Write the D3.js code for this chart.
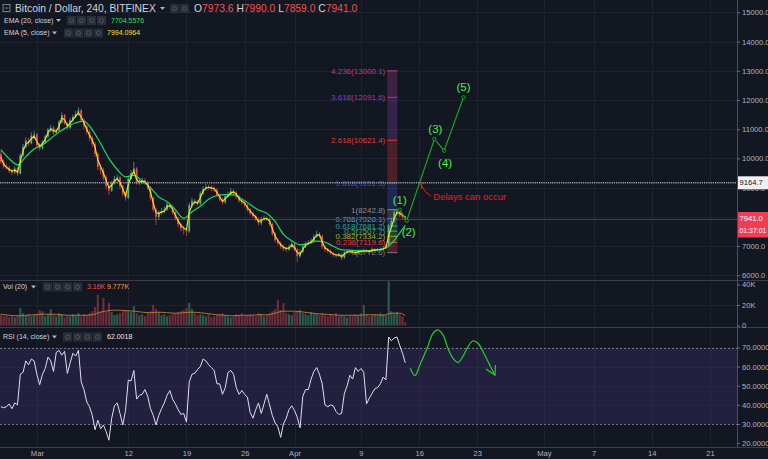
<!DOCTYPE html>
<html><head><meta charset="utf-8">
<script src="https://cdn.jsdelivr.net/npm/d3@7/dist/d3.min.js"></script>
<style>
body{margin:0;background:#131722;overflow:hidden;}
svg{display:block;font-family:"Liberation Sans",Arial,sans-serif;}
</style></head><body>
<svg id="c" width="768" height="459"></svg>
<script>
// ---------------- DATA ----------------
const candleStart = "2018-02-24T16:00:00Z";   // 8h candles
const candleHours = 8;
const firstOpen = 10150;
const closes = [9880,9720,9680,9580,9520,9650,9480,10100,10400,10600,
10520,10780,10820,10450,10350,10560,10750,10980,11050,10880,
10960,11250,11480,11200,11050,11300,11420,11520,11650,11300,
11100,10900,10700,10500,10150,9700,9600,9350,9050,8900,
9150,9300,9350,9050,8800,8650,9300,9500,9650,9150,
9180,9250,9180,9000,8650,8250,8000,8150,8200,8250,
8420,8350,8150,7950,7750,7600,7550,7500,8400,8550,
8500,8450,8800,8950,9020,9000,8960,8930,8750,8600,
8500,8700,8780,8870,8820,8700,8550,8500,8400,8250,
8120,8030,7920,7780,7930,7960,7930,7750,7420,7200,
7100,6980,6900,6880,6970,7080,6880,6650,6800,6980,
7080,7120,7180,7320,7420,7350,6980,6880,6830,6760,
6700,6670,6720,6600,6780,6820,6800,6790,6750,6830,
6810,6850,6820,6800,6890,6850,6880,6890,6920,6980,
7650,7850,8150,8180,8050,8000,7941];
const highs = [10250,9950,9800,9750,9650,9720,9700,10180,10500,10720,
10700,10900,10950,10880,10520,10620,10820,11050,11150,11100,
11020,11320,11580,11520,11250,11380,11500,11620,11750,11700,
11380,11150,10980,10780,10560,10200,9800,9680,9420,9120,
9220,9400,9450,9400,9100,8850,9380,9600,9880,9700,
9300,9350,9320,9230,9050,8700,8300,8220,8300,8350,
8520,8480,8400,8200,8000,7800,7680,7600,8480,8650,
8620,8580,8880,9050,9120,9100,9080,9040,8980,8800,
8650,8780,8860,8980,8950,8880,8750,8620,8560,8450,
8300,8180,8080,7980,8000,8050,8020,7980,7800,7480,
7260,7150,7050,6960,7050,7150,7120,6920,6880,7050,
7150,7200,7260,7400,7520,7480,7380,7020,6930,6880,
6800,6750,6780,6760,6850,6880,6880,6860,6830,6890,
6880,6910,6890,6870,6950,6930,6940,6950,6980,7050,
7750,7950,8240,8280,8250,8120,8020];
const lows = [9800,9650,9600,9500,9420,9470,9400,9450,10050,10350,
10420,10480,10650,10380,10250,10300,10500,10700,10900,10800,
10820,10900,11200,11150,10980,11000,11250,11380,11450,11250,
11000,10820,10600,10400,10050,9600,9450,9250,8950,8750,
8850,9100,9200,8950,8700,8550,8600,9250,9450,9100,
9080,9120,9100,8920,8550,8150,7720,7900,8080,8120,
8200,8280,8080,7880,7650,7500,7400,7350,7450,8320,
8420,8380,8400,8750,8900,8920,8880,8850,8680,8520,
8420,8450,8650,8720,8750,8620,8480,8420,8320,8180,
8050,7950,7850,7700,7720,7880,7860,7680,7350,7120,
7020,6900,6820,6800,6830,6920,6800,6450,6600,6750,
6930,7020,7080,7130,7280,7280,6900,6800,6760,6700,
6620,6600,6620,6520,6560,6740,6740,6730,6690,6710,
6760,6770,6770,6750,6760,6800,6810,6830,6850,6880,
6950,7600,7800,8050,7980,7920,7859];
const ema5 = [10050,9800,9700,9620,9560,9600,9530,9900,10250,10480,
10560,10680,10760,10580,10420,10500,10650,10880,11000,10950,
10930,11100,11380,11320,11120,11200,11330,11450,11560,11420,
11230,11000,10800,10620,10380,9950,9720,9500,9250,9000,
9080,9230,9300,9180,8950,8720,9100,9380,9560,9280,
9190,9220,9200,9100,8850,8480,8150,8110,8160,8190,
8350,8380,8260,8050,7860,7700,7620,7560,8150,8400,
8510,8470,8650,8880,8980,9010,8990,8960,8830,8680,
8530,8620,8720,8820,8850,8780,8620,8530,8470,8320,
8190,8090,7990,7840,7870,7930,7940,7850,7590,7340,
7190,7050,6960,6920,6930,7030,6950,6780,6720,6890,
7030,7090,7130,7250,7360,7390,7140,6940,6870,6800,
6730,6690,6700,6640,6720,6790,6810,6800,6770,6800,
6810,6830,6830,6810,6860,6860,6870,6880,6900,6950,
7350,7650,7950,8150,8120,8050,7994];
// EMA 20: one value per day (every 3rd candle) plus the last candle
const ema20 = [10300,9990,9780,10060,10320,10460,10680,10900,11080,11220,
11270,10980,10510,10000,9620,9370,9420,9230,9000,8680,
8520,8240,7950,8170,8360,8600,8730,8760,8750,8610,
8420,8230,8120,7840,7400,7180,7040,7080,7170,7130,
6990,6870,6860,6845,6840,6860,6900,7080,7450,7705];
// volume in thousands
const volumes = [11,9,10,8,9,8,10,17,12,10,
11,9,10,11,15,14,9,11,16,10,
9,12,11,8,10,9,11,10,12,9,
11,10,12,14,18,30,14,27,13,22,
13,10,11,12,14,15,14,13,19,12,
10,11,9,12,14,20,16,13,10,11,
9,10,11,12,13,14,15,17,22,16,
12,10,11,10,9,11,8,9,10,11,
12,10,9,8,9,11,10,12,9,10,
11,10,9,12,11,9,10,12,14,16,
25,15,22,12,11,10,13,14,15,12,
11,10,13,11,12,10,12,10,9,11,
10,12,9,10,9,8,10,9,11,10,
12,20,11,9,10,11,10,12,11,10,
43,14,12,13,11,9,3.16];
const volMA = [11,10,9.5,10,10.5,11,11,10.5,10,10,
10,10.5,13,14.5,15,14.5,14,13,12.5,13,
12.5,12,12.5,13,12.5,11.5,10.5,10,9.5,10,
10,10.5,10.5,12,14,14,13.5,12.5,11.5,11,
10.5,10,10,10,10.5,10.5,10,12,12,9.8];
const rsi = [39,38.5,39,40.5,38,41,40,56,57,63,
61,64,63,56,50.5,56,59,65,63,57.5,
67.5,68.5,66,68,56.5,62,67,65.5,68.5,52,
48,41.5,39,34.5,27,32,27.5,29.5,26,21.5,
33,39.5,41,35.5,29.5,37,53,52.5,58,43,
45,45.5,48,44.5,38,34.5,29.5,34.5,38,41,
45,47.5,43,40.5,37.5,35,35.5,31,52,56,
56.5,58.5,60,64,63,61,59.5,58,51,51,
45.5,49,57,58,56,49,45.5,47.5,45.5,44,
36,33,37.5,41,35.5,40.5,45.5,40,34.5,30.5,
28.5,23,30,33,37.5,39.5,37,33.5,28,44.5,
48,48,53.5,57.5,59.5,56,51,40,39,40,
39.5,36.5,35,35.5,46,50,55.5,53.5,59.5,57.5,
59,57,40.5,43.5,46,48.5,49,51,54.5,53,
75.5,73.5,75,75.5,71,67,62];

const priceTicks = [6000,7000,8000,9000,10000,11000,12000,13000,14000,15000];
const volTicks = [0,20,40];
const volTickLabels = ["0","20K","40K"];
const rsiTicks = [20,30,40,50,60,70,80];
const dateTicks = ["2018-03-01","2018-03-12","2018-03-19","2018-03-26","2018-04-01","2018-04-09","2018-04-16","2018-04-23","2018-05-01","2018-05-07","2018-05-14","2018-05-21"];
const dateTickLabels = ["Mar","12","19","26","Apr","9","16","23","May","7","14","21"];

const fibStart = "2018-04-12T04:00:00Z", fibEnd = "2018-04-13T09:00:00Z";
const fibRatios = [0,0.236,0.382,0.5,0.618,0.786,1,1.618,2.618,3.618,4.236];
const fibPrices = [6772.6,7119.6,7334.2,7507.7,7681.2,7928.1,8242.8,9151.3,10621.4,12091.6,13000.1];

const waveLabels = ["(1)","(2)","(3)","(4)","(5)"];
const waveDates = ["2018-04-13T16:00:00Z","2018-04-14T12:00:00Z","2018-04-17T20:00:00Z","2018-04-19T00:00:00Z","2018-04-21T08:00:00Z"];
const wavePrices = [8242.8,7867,10664,10264,12092];

const rsiSketchDates = ["2018-04-14T22:00:00Z","2018-04-15T12:00:00Z","2018-04-16T02:00:00Z","2018-04-16T23:00:00Z","2018-04-17T16:00:00Z","2018-04-18T06:00:00Z","2018-04-18T21:00:00Z","2018-04-19T11:00:00Z","2018-04-20T02:00:00Z","2018-04-20T16:00:00Z","2018-04-21T06:00:00Z","2018-04-21T21:00:00Z","2018-04-22T11:00:00Z","2018-04-23T02:00:00Z","2018-04-23T19:00:00Z","2018-04-24T12:00:00Z","2018-04-25T03:00:00Z"];
const rsiSketchValues = [59.1,55.3,60.8,69.6,77.4,79.2,76.6,69.6,64.3,62.2,65.2,70.4,73.4,72.2,66.9,60.8,55.6];

const markedLevel = 9164.7;
const lastPrice = 7941.0;
const countdown = "01:37:01";
const delayTip = {date:"2018-04-16T05:00:00Z", price:9120};
const delayText = {date:"2018-04-17T17:00:00Z", price:8700, text:"Delays can occur"};

// ---------------- STYLE ----------------
const BG="#131722", GRID="#1e2230", AXIS_TXT="#b2b5be", SEP="#3a3e4a";
const UP="#53b987", DN="#eb4d5c";
const fibColors = ["#787b86","#f23645","#9bb33a","#4caf50","#26a69a","#5b9cd6","#8a8d96","#3f51d6","#e53935","#8e3fc0","#b0418e"];

// ---------------- SCALES ----------------
const svg = d3.select("#c");
const PR = 737;
const x = d3.scaleUtc().domain([new Date("2018-03-12T00:00:00Z"), new Date("2018-05-21T00:00:00Z")]).range([128.3, 710]);
const yP = d3.scaleLinear().domain([6000,15000]).range([275.2,12.4]);
const yV = d3.scaleLinear().domain([0,40]).range([325.5,284.5]);
const yR = d3.scaleLinear().domain([20,80]).range([443.1,328.4]);
const times = d3.range(closes.length).map(i => d3.utcHour.offset(new Date(candleStart), i*candleHours));
const opens = closes.map((c,i)=> i===0 ? firstOpen : closes[i-1]);
const dayIdx = d3.range(0, closes.length, 3).concat([closes.length-1]);

svg.append("rect").attr("width",768).attr("height",459).attr("fill",BG);
const defs = svg.append("defs");
defs.append("clipPath").attr("id","cm").append("rect").attr("x",0).attr("y",0).attr("width",PR).attr("height",280);
defs.append("clipPath").attr("id","cv").append("rect").attr("x",0).attr("y",281).attr("width",PR).attr("height",46);
defs.append("clipPath").attr("id","cr").append("rect").attr("x",0).attr("y",328).attr("width",PR).attr("height",119);
defs.append("clipPath").attr("id","cra").append("rect").attr("x",PR).attr("y",328).attr("width",768-PR).attr("height",119);

// grid
const grid = svg.append("g");
dateTicks.forEach(d=>{
  const xx = Math.round(x(new Date(d+"T00:00:00Z")))+0.5;
  grid.append("line").attr("x1",xx).attr("x2",xx).attr("y1",0).attr("y2",447).attr("stroke",GRID);
});
priceTicks.forEach(p=>{
  const yy=Math.round(yP(p))+0.5;
  grid.append("line").attr("x1",0).attr("x2",PR).attr("y1",yy).attr("y2",yy).attr("stroke",GRID);
});
grid.append("line").attr("x1",0).attr("x2",PR).attr("y1",Math.round(yV(20))+0.5).attr("y2",Math.round(yV(20))+0.5).attr("stroke",GRID);

// RSI band
const rsiG = svg.append("g").attr("clip-path","url(#cr)");
rsiG.append("rect").attr("x",0).attr("width",PR).attr("y",yR(70)).attr("height",yR(30)-yR(70)).attr("fill","rgba(120,70,200,0.17)");
[40,50,60].forEach(v=>rsiG.append("line").attr("x1",0).attr("x2",PR).attr("y1",Math.round(yR(v))+0.5).attr("y2",Math.round(yR(v))+0.5).attr("stroke","#2c2646"));
[70,30].forEach(v=>rsiG.append("line").attr("x1",0).attr("x2",PR).attr("y1",Math.round(yR(v))+0.5).attr("y2",Math.round(yR(v))+0.5).attr("stroke","#70737e").attr("stroke-dasharray","2,2"));

// main pane
const main = svg.append("g").attr("clip-path","url(#cm)");

// fib tool
const fx0 = x(new Date(fibStart)), fx1 = x(new Date(fibEnd));
for(let i=1;i<fibPrices.length;i++){
  main.append("rect").attr("x",fx0).attr("width",fx1-fx0)
    .attr("y",yP(fibPrices[i])).attr("height",yP(fibPrices[i-1])-yP(fibPrices[i]))
    .attr("fill",fibColors[i]).attr("opacity",0.28);
}
fibPrices.forEach((p,i)=>{
  main.append("line").attr("x1",fx0).attr("x2",fx1).attr("y1",yP(p)).attr("y2",yP(p)).attr("stroke",fibColors[i]).attr("stroke-width",1);
  main.append("text").attr("x",fx0-2).attr("y",yP(p)).attr("dy","0.35em").attr("text-anchor","end")
    .attr("font-size",8).attr("fill",fibColors[i]).text(`${fibRatios[i]}(${p.toFixed(1)})`);
});

// horizontal lines
main.append("line").attr("x1",0).attr("x2",PR).attr("y1",Math.round(yP(lastPrice))+0.5).attr("y2",Math.round(yP(lastPrice))+0.5).attr("stroke","#7a2a38").attr("stroke-width",1);

// candles
const cw = (x(times[1])-x(times[0]))*0.62;
const cg = main.append("g");
closes.forEach((c,i)=>{
  const col = c>=opens[i]?UP:DN, xx = x(times[i]);
  cg.append("line").attr("x1",xx).attr("x2",xx).attr("y1",yP(highs[i])).attr("y2",yP(lows[i])).attr("stroke",col).attr("stroke-width",0.7);
  const y1=yP(Math.max(c,opens[i])), y2=yP(Math.min(c,opens[i]));
  cg.append("rect").attr("x",xx-cw/2).attr("width",cw).attr("y",y1).attr("height",Math.max(0.8,y2-y1)).attr("fill",col);
});
// EMAs
main.append("path").datum(ema20).attr("fill","none").attr("stroke","#1ed760").attr("stroke-width",1.2)
  .attr("d", d3.line().curve(d3.curveMonotoneX).x((d,k)=>x(times[dayIdx[k]])).y(d=>yP(d)));
main.append("path").datum(ema5).attr("fill","none").attr("stroke","#f5e51b").attr("stroke-width",1.1)
  .attr("d", d3.line().x((d,i)=>x(times[i])).y(d=>yP(d)));

// marked level (dotted)
main.append("line").attr("x1",0).attr("x2",PR).attr("y1",yP(markedLevel)).attr("y2",yP(markedLevel)).attr("stroke","#a3a6ae").attr("stroke-width",1.6).attr("stroke-dasharray","1.2,1");

// wave
const wpts = waveDates.map((d,i)=>[x(new Date(d)), yP(wavePrices[i])]);
main.append("path").attr("d", d3.line()(wpts)).attr("fill","none").attr("stroke","#1fae1f").attr("stroke-width",1.1);
wpts.forEach(p=>main.append("circle").attr("cx",p[0]).attr("cy",p[1]).attr("r",1.7).attr("fill",BG).attr("stroke","#1fae1f").attr("stroke-width",0.9));
const wOff = [[0,-10],[2,11],[1,-10],[1,12],[0,-10]];
wpts.forEach((p,i)=>main.append("text").attr("x",p[0]+wOff[i][0]).attr("y",p[1]+wOff[i][1]).attr("dy","0.35em")
  .attr("text-anchor","middle").attr("font-size",11.5).attr("fill","#46ef46").text(waveLabels[i]));

// delays annotation
const tx = x(new Date(delayTip.date)), ty = yP(delayTip.price);
main.append("path").attr("d",`M${tx+10},${ty+12} Q${tx+3},${ty+8} ${tx},${ty}`).attr("fill","none").attr("stroke","#e0202a").attr("stroke-width",1);
main.append("path").attr("d",`M${tx+5},${ty-1.5} L${tx},${ty} L${tx+1},${ty+5}`).attr("fill","none").attr("stroke","#e0202a").attr("stroke-width",1);
main.append("text").attr("x",x(new Date(delayText.date))).attr("y",yP(delayText.price)).attr("dy","0.35em")
  .attr("font-size",9.5).attr("fill","#e0202a").text(delayText.text);

// volume pane
const vg = svg.append("g").attr("clip-path","url(#cv)");
volumes.forEach((v,i)=>{
  const col = closes[i]>=opens[i]?UP:DN;
  vg.append("rect").attr("x",x(times[i])-cw/2-0.2).attr("width",cw+0.4).attr("y",yV(v)).attr("height",yV(0)-yV(v)).attr("fill",col).attr("opacity",0.42);
});
vg.append("path").datum(volMA).attr("fill","none").attr("stroke","#d9862e").attr("stroke-width",1).attr("opacity",0.8)
  .attr("d", d3.line().curve(d3.curveMonotoneX).x((d,k)=>x(times[dayIdx[k]])).y(d=>yV(d)));

// RSI
rsiG.append("path").datum(rsi).attr("fill","none").attr("stroke","#e4ddf0").attr("stroke-width",1)
  .attr("d", d3.line().x((d,i)=>x(times[i])).y(d=>yR(d)));
const rs = rsiSketchDates.map((d,i)=>[x(new Date(d)), yR(rsiSketchValues[i])]);
rsiG.append("path").attr("d", d3.line().curve(d3.curveCatmullRom)(rs)).attr("fill","none").attr("stroke","#22d122").attr("stroke-width",1.2);
const tip = rs[rs.length-1];
rsiG.append("path").attr("d",`M${tip[0]-9},${tip[1]-6} L${tip[0]},${tip[1]} L${tip[0]+0.5},${tip[1]-10}`).attr("fill","none").attr("stroke","#22d122").attr("stroke-width",1.2);

// separators & axis border
[[280.5],[327.5],[447.5]].forEach(([yy])=>svg.append("line").attr("x1",0).attr("x2",768).attr("y1",yy).attr("y2",yy).attr("stroke",SEP));
svg.append("line").attr("x1",PR+0.5).attr("x2",PR+0.5).attr("y1",0).attr("y2",447).attr("stroke","#4a4e5a");

// axes
const axStyle = g=>{ g.select(".domain").remove(); g.selectAll("line").attr("stroke","#6a6e79"); g.selectAll("text").attr("fill",AXIS_TXT).attr("font-size",7.6).attr("font-family","Liberation Sans, Arial, sans-serif"); };
// price labels hidden where a price box covers them (as on the reference)
const coveredTicks = priceTicks.filter(p => Math.abs(yP(p)-yP(lastPrice))<6);
svg.append("g").attr("transform",`translate(${PR},0)`).call(d3.axisRight(yP).tickValues(priceTicks.filter(p=>!coveredTicks.includes(p))).tickFormat(d=>d.toFixed(1)).tickSize(3).tickPadding(2)).call(axStyle);
svg.append("g").attr("transform",`translate(${PR},0)`).call(d3.axisRight(yV).tickValues(volTicks).tickFormat((d,i)=>volTickLabels[i]).tickSize(3).tickPadding(2)).call(axStyle);
svg.append("g").attr("clip-path","url(#cra)").append("g").attr("transform",`translate(${PR},0)`).call(d3.axisRight(yR).tickValues(rsiTicks.filter(v=>v<80)).tickFormat(d=>d.toFixed(4)).tickSize(3).tickPadding(2)).call(axStyle);
svg.append("g").attr("transform",`translate(0,447)`).call(d3.axisBottom(x).tickValues(dateTicks.map(d=>new Date(d+"T00:00:00Z"))).tickFormat((d,i)=>dateTickLabels[i]).tickSize(0).tickPadding(4)).call(axStyle);

// price labels
function priceBox(yc, txt, bg, fg, fs){
  svg.append("rect").attr("x",738).attr("y",yc-6.5).attr("width",30).attr("height",13).attr("fill",bg);
  svg.append("text").attr("x",739.5).attr("y",yc).attr("dy","0.35em").attr("font-size",fs).attr("fill",fg).text(txt);
}
priceBox(yP(markedLevel), markedLevel.toFixed(1), "#f0f0f0", "#131722", 7.6);
priceBox(yP(lastPrice), lastPrice.toFixed(1), "#ee3d55", "#ffffff", 7.6);
priceBox(yP(lastPrice)+12.5, countdown, "#ee3d55", "#ffffff", 6.9);

// ---------------- LEGENDS ----------------
function iconBoxes(x0, y0, n){
  for(let k=0;k<n;k++){
    svg.append("rect").attr("x",x0+k*10).attr("y",y0).attr("width",9).attr("height",9).attr("fill","#2a2e39");
    svg.append("circle").attr("cx",x0+k*10+4.5).attr("cy",y0+4.5).attr("r",2).attr("fill","none").attr("stroke","#555a66").attr("stroke-width",0.8);
  }
}
function caret(x0,yc){ svg.append("path").attr("d",`M${x0},${yc-1.5} L${x0+5},${yc-1.5} L${x0+2.5},${yc+1.5}Z`).attr("fill","#b2b5be"); }
// title line
svg.append("rect").attr("x",3).attr("y",4.5).attr("width",7).attr("height",7).attr("fill","none").attr("stroke","#9598a1").attr("stroke-width",0.8);
svg.append("line").attr("x1",4.5).attr("x2",8.5).attr("y1",8).attr("y2",8).attr("stroke","#9598a1").attr("stroke-width",0.8);
svg.append("text").attr("x",15).attr("y",8.5).attr("dy","0.35em").attr("font-size",10.3).attr("fill","#d1d4dc").text("Bitcoin / Dollar, 240, BITFINEX");
caret(160,8.5);
iconBoxes(170,4,2);
const ohlc = svg.append("text").attr("x",194).attr("y",8.5).attr("dy","0.35em").attr("font-size",10.3);
[["O","7973.6"],["H","7990.0"],["L","7859.0"],["C","7941.0"]].forEach(([k,v],i)=>{
  ohlc.append("tspan").attr("fill","#d1d4dc").text((i?" ":"")+k);
  ohlc.append("tspan").attr("fill","#ef5350").text(v);
});
// EMA lines
svg.append("text").attr("x",4).attr("y",20.5).attr("dy","0.35em").attr("font-size",7).attr("fill","#d1d4dc").text("EMA (20, close)");
caret(56,20.5); iconBoxes(67,16,4);
svg.append("text").attr("x",111).attr("y",20.5).attr("dy","0.35em").attr("font-size",7).attr("fill","#22e05a").text("7704.5576");
svg.append("text").attr("x",4).attr("y",33).attr("dy","0.35em").attr("font-size",7).attr("fill","#d1d4dc").text("EMA (5, close)");
caret(52,33); iconBoxes(64,28.5,4);
svg.append("text").attr("x",107).attr("y",33).attr("dy","0.35em").attr("font-size",7).attr("fill","#f5e51b").text("7994.0964");
// Vol legend
svg.append("text").attr("x",3).attr("y",287).attr("dy","0.35em").attr("font-size",7).attr("fill","#d1d4dc").text("Vol (20)");
caret(31,287); iconBoxes(43,282.5,4);
svg.append("text").attr("x",87).attr("y",287).attr("dy","0.35em").attr("font-size",7).attr("fill","#ef5350").text("3.16K");
svg.append("text").attr("x",107).attr("y",287).attr("dy","0.35em").attr("font-size",7).attr("fill","#f0a040").text("9.777K");
// RSI legend
svg.append("text").attr("x",3).attr("y",337).attr("dy","0.35em").attr("font-size",7).attr("fill","#d1d4dc").text("RSI (14, close)");
caret(52,337); iconBoxes(63,332.5,4);
svg.append("text").attr("x",107).attr("y",337).attr("dy","0.35em").attr("font-size",7).attr("fill","#e8e8ee").text("62.0018");
</script>
</body></html>
